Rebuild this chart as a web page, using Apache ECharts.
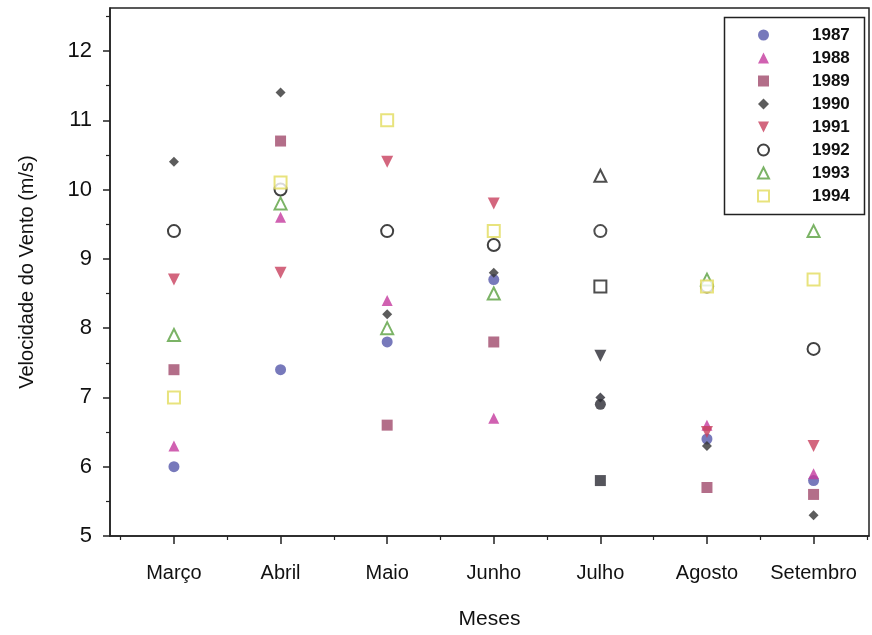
<!DOCTYPE html>
<html>
<head>
<meta charset="utf-8">
<script src="https://cdn.jsdelivr.net/npm/echarts@6/dist/echarts.min.js"></script>
<style>html,body{margin:0;padding:0;background:#fff}#c{width:872px;height:635px}</style>
</head>
<body>
<div id="c"></div>
<script>
const months = ['Março', 'Abril', 'Maio', 'Junho', 'Julho', 'Agosto', 'Setembro'];
const years = ['1987', '1988', '1989', '1990', '1991', '1992', '1993', '1994'];
const v1987 = [6.0, 7.4, 7.8, 8.7, 6.9, 6.4, 5.8];
const v1988 = [6.3, 9.6, 8.4, 6.7, null, 6.6, 5.9];
const v1989 = [7.4, 10.7, 6.6, 7.8, 5.8, 5.7, 5.6];
const v1990 = [10.4, 11.4, 8.2, 8.8, 7.0, 6.3, 5.3];
const v1991 = [8.7, 8.8, 10.4, 9.8, 7.6, 6.5, 6.3];
const v1992 = [9.4, 10.0, 9.4, 9.2, 9.4, 8.6, 7.7];
const v1993 = [7.9, 9.8, 8.0, 8.5, 10.2, 8.7, 9.4];
const v1994 = [7.0, 10.1, 11.0, 9.4, 8.6, 8.6, 8.7];
const yTicks = [5, 6, 7, 8, 9, 10, 11, 12];

const values = [v1987, v1988, v1989, v1990, v1991, v1992, v1993, v1994];
const symbols = ['circle', 'triangle', 'rect', 'diamond', 'triangle', 'emptyCircle', 'emptyTriangle', 'emptyRect'];
const legendIcons = ['circle', 'triangle', 'rect', 'diamond', 'path://M0,0 L10,0 L5,10 Z', 'emptyCircle', 'emptyTriangle', 'emptyRect'];
const rotations = [0, 0, 0, 0, 180, 0, 0, 0];
const colors = ['#5558aa', '#c43a9e', '#a04a6c', '#333333', '#c8405e', '#111111', '#5aa040', '#e2dc5c'];
const sizes = [11, 11, 11, 10, 12, 12, 12, 12];
const darkMonth = 'Julho'; // markers printed dark in the scan

const xIdx = months.map((m, i) => i + 1);
const xMinor = months.map((m, i) => i + 0.5).concat([months.length + 0.5]);
const yMinor = yTicks.map(v => v + 0.5);

const series = years.map((y, s) => ({
  name: y,
  type: 'scatter',
  xAxisIndex: 0,
  yAxisIndex: 0,
  symbol: symbols[s],
  symbolRotate: rotations[s],
  symbolSize: sizes[s],
  itemStyle: { color: colors[s], borderWidth: symbols[s].startsWith('empty') ? 1.5 : 0 },
  data: values[s].map((v, i) => {
    if (v == null) return null;
    const d = { value: [xIdx[i], v] };
    if (months[i] === darkMonth) d.itemStyle = { color: s >= 5 ? '#222' : '#2a2a33' };
    return d;
  }).filter(d => d)
}));

const chart = echarts.init(document.getElementById('c'), null, { renderer: 'canvas' });
chart.setOption({
  animation: false,
  backgroundColor: '#fff',
  grid: { left: 110, right: 3, top: 8, bottom: 91, show: true, borderColor: '#222', borderWidth: 1.5 },
  xAxis: [{
    type: 'value', min: 0.4, max: 7.52, position: 'bottom',
    name: 'Meses', nameLocation: 'middle', nameGap: 73,
    nameTextStyle: { fontFamily: 'Liberation Sans', fontSize: 21, color: '#111' },
    axisLine: { show: true, lineStyle: { color: '#222', width: 1.5 } },
    axisTick: { show: true, inside: false, length: 8, customValues: xIdx, lineStyle: { color: '#222', width: 1.5 } },
    axisLabel: { customValues: xIdx, formatter: v => months[Math.round(v) - 1] || '', margin: 27,
      fontFamily: 'Liberation Sans', fontSize: 20, color: '#111' },
    splitLine: { show: false }
  }, {
    type: 'value', min: 0.4, max: 7.52, position: 'bottom',
    axisLine: { show: false },
    axisTick: { show: true, length: 4, customValues: xMinor, lineStyle: { color: '#222', width: 1.2 } },
    axisLabel: { show: false },
    splitLine: { show: false }
  }],
  yAxis: [{
    type: 'value', min: 5, max: 12.62, position: 'left',
    name: 'Velocidade do Vento (m/s)', nameLocation: 'middle', nameGap: 73, nameRotate: 90,
    nameTextStyle: { fontFamily: 'Liberation Sans', fontSize: 20, color: '#111' },
    axisLine: { show: true, lineStyle: { color: '#222', width: 1.5 } },
    axisTick: { show: true, length: 7, customValues: yTicks, lineStyle: { color: '#222', width: 1.5 } },
    axisLabel: { customValues: yTicks, margin: 18, fontFamily: 'Liberation Sans', fontSize: 22, color: '#111' },
    splitLine: { show: false }
  }, {
    type: 'value', min: 5, max: 12.62, position: 'left',
    axisLine: { show: false },
    axisTick: { show: true, length: 4, customValues: yMinor, lineStyle: { color: '#222', width: 1.2 } },
    axisLabel: { show: false },
    splitLine: { show: false }
  }],
  legend: {
    orient: 'vertical', left: 752, top: 21,
    data: years.map((y, s) => ({ name: y, icon: legendIcons[s] })),
    itemWidth: 11, itemHeight: 11, itemGap: 5,
    textStyle: { fontFamily: 'Liberation Sans', fontSize: 17, fontWeight: 'bold', color: '#111',
      lineHeight: 18, padding: [0, 0, 0, 38] },
    selectedMode: false
  },
  graphic: [{
    type: 'rect', left: 722, top: 15, z: 10,
    shape: { width: 140, height: 197 },
    style: { fill: 'none', stroke: '#222', lineWidth: 1.5 }
  }],
  series: series
});
</script>
</body>
</html>
